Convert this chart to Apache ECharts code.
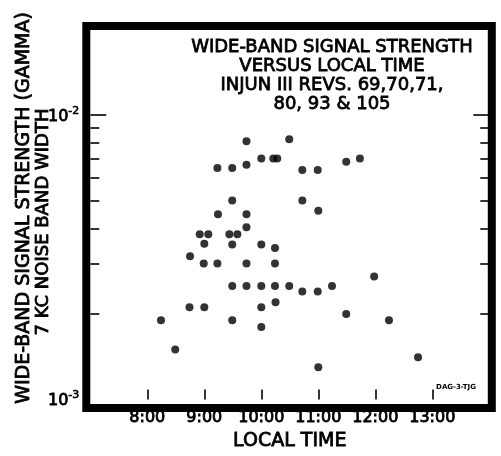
<!DOCTYPE html>
<html><head><meta charset="utf-8">
<script src="https://cdn.jsdelivr.net/npm/echarts@6/dist/echarts.min.js"></script>
<style>html,body{margin:0;padding:0;background:#fff}#c{width:501px;height:456px}</style>
</head><body><div id="c"></div>
<script>
// Local time (hours) of each observation
const times = [9.74, 9.23, 9.49, 9.74, 10.0, 10.21, 10.28, 10.49, 10.72, 10.99, 11.49, 11.73,
  10.72, 11.0, 9.49, 9.24, 9.74, 9.74, 8.92, 9.07, 9.44, 9.58, 9.0, 9.49, 10.0, 10.24,
  8.75, 8.99, 9.23, 9.74, 10.24, 9.49, 9.74, 10.0, 10.24, 10.49, 10.72, 10.99, 11.24, 11.98,
  8.74, 9.0, 10.0, 10.25, 8.24, 9.49, 10.0, 11.49, 12.24, 8.49, 11.0, 12.75];
// Wide-band signal strength (gamma)
const strength = [8.09e-3, 6.51e-3, 6.51e-3, 6.69e-3, 7.03e-3, 7.03e-3, 7.03e-3, 8.22e-3, 6.41e-3, 6.41e-3, 6.86e-3, 7.03e-3,
  5.01e-3, 4.61e-3, 5.01e-3, 4.48e-3, 4.48e-3, 4.03e-3, 3.81e-3, 3.81e-3, 3.81e-3, 3.81e-3, 3.53e-3, 3.51e-3, 3.51e-3, 3.41e-3,
  3.19e-3, 3.01e-3, 3.01e-3, 3.01e-3, 3.01e-3, 2.51e-3, 2.51e-3, 2.51e-3, 2.51e-3, 2.51e-3, 2.40e-3, 2.40e-3, 2.51e-3, 2.71e-3,
  2.11e-3, 2.11e-3, 2.11e-3, 2.20e-3, 1.90e-3, 1.90e-3, 1.80e-3, 2.00e-3, 1.90e-3, 1.50e-3, 1.30e-3, 1.41e-3];
const xMin = 7, xMax = 14;
const xTickHours = [8, 9, 10, 11, 12, 13];
const yMin = 1e-3, yMax = 2e-2;
const yMajorValues = [1e-3, 1e-2];
const yMinorValues = [2e-3, 3e-3, 4e-3, 5e-3, 6e-3, 7e-3, 8e-3, 9e-3];
const titleLines = ['WIDE-BAND SIGNAL STRENGTH', 'VERSUS LOCAL TIME', 'INJUN III REVS. 69,70,71,', '80, 93 & 105'];
const yNameLine1 = 'WIDE-BAND SIGNAL STRENGTH (GAMMA)';
const yNameLine2 = '7 KC NOISE BAND WIDTH';
const xName = 'LOCAL TIME';
const stamp = 'DAG-3-TJG';

const FONT = '"DejaVu Sans", sans-serif';
const G = {left: 90.3, right: 11.7, top: 29.4, bottom: 51.6};
const W = 501, H = 456;
const gw = W - G.left - G.right, gh = H - G.top - G.bottom;
const FW = 8;
const SW = 0.8; // text stroke to mimic the heavy lettering

function yAxisDef(pos, values, len, labels) {
  return {
    type: 'log', logBase: 10, min: yMin, max: yMax, position: pos,
    axisLine: {show: false}, splitLine: {show: false}, minorTick: {show: false},
    axisTick: {show: true, inside: true, length: len, customValues: values,
      lineStyle: {color: '#000', width: 1.6}},
    axisLabel: labels ? {
      show: true, customValues: yMajorValues, margin: 11,
      formatter: v => '{b|10}{s|' + Math.round(Math.log10(v)) + '}',
      rich: {
        b: {fontFamily: FONT, fontSize: 16, color: '#000', verticalAlign: 'bottom', textBorderColor: '#000', textBorderWidth: SW},
        s: {fontFamily: FONT, fontSize: 11, color: '#000', verticalAlign: 'bottom', padding: [0, 0, 8, 0], textBorderColor: '#000', textBorderWidth: 0.6}
      }
    } : {show: false}
  };
}

const chart = echarts.init(document.getElementById('c'), null, {renderer: 'canvas'});
chart.setOption({
  backgroundColor: '#fff',
  animation: false,
  grid: {left: G.left, right: G.right, top: G.top, bottom: G.bottom, containLabel: false},
  xAxis: {
    type: 'value', min: xMin, max: xMax, interval: 1,
    name: xName, nameLocation: 'middle', nameGap: 32,
    nameTextStyle: {fontFamily: FONT, fontSize: 19, color: '#000', textBorderColor: '#000', textBorderWidth: SW},
    axisLine: {show: false}, splitLine: {show: false},
    axisTick: {show: true, inside: true, length: 10, customValues: xTickHours, lineStyle: {color: '#000', width: 1.6}},
    axisLabel: {
      show: true, customValues: xTickHours, margin: 10,
      formatter: v => v + ':00',
      fontFamily: FONT, fontSize: 16, color: '#000', textBorderColor: '#000', textBorderWidth: SW
    }
  },
  yAxis: [
    yAxisDef('left', [1e-2], 16, true),
    yAxisDef('left', yMinorValues, 9, false),
    yAxisDef('right', [1e-2], 16, false),
    yAxisDef('right', yMinorValues, 9, false)
  ],
  series: [{
    type: 'scatter', yAxisIndex: 0,
    data: times.map((t, i) => [t, strength[i]]),
    symbol: 'circle', symbolSize: 8,
    itemStyle: {color: '#000'}
  }],
  graphic: [
    {type: 'rect', z: 100, silent: true,
      shape: {x: G.left - FW / 2, y: G.top - FW / 2 + 0.5, width: gw + FW - 1.5, height: gh + FW - 1},
      style: {fill: 'none', stroke: '#000', lineWidth: FW}},
    {type: 'text', z: 100, x: 332, y: 37.5,
      style: {text: titleLines.join('\n'), fill: '#000', stroke: '#000', lineWidth: SW,
        font: '18px ' + FONT, align: 'center', verticalAlign: 'top', lineHeight: 19}},
    {type: 'text', z: 100, x: 24.5, y: 208, rotation: Math.PI / 2,
      style: {text: yNameLine1, fill: '#000', stroke: '#000', lineWidth: SW,
        font: '19px ' + FONT, align: 'center', verticalAlign: 'middle'}},
    {type: 'text', z: 100, x: 43, y: 222, rotation: Math.PI / 2,
      style: {text: yNameLine2, fill: '#000', stroke: '#000', lineWidth: SW,
        font: '18px ' + FONT, align: 'center', verticalAlign: 'middle'}},
    {type: 'text', z: 100, x: 456, y: 387,
      style: {text: stamp, fill: '#000', font: 'bold 7px ' + FONT, align: 'center', verticalAlign: 'middle'}}
  ]
});
</script>
</body></html>
